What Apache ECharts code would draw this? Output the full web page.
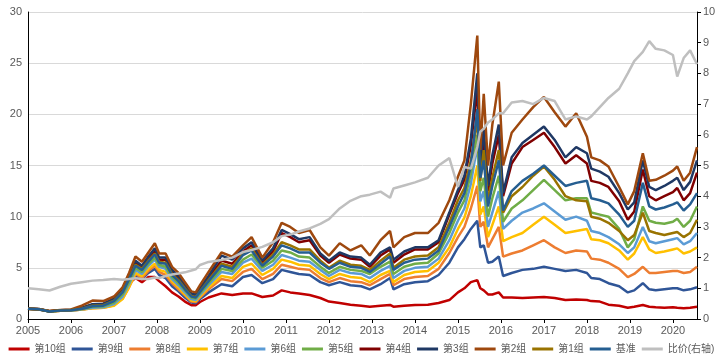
<!DOCTYPE html>
<html>
<head>
<meta charset="utf-8">
<script src="https://cdn.jsdelivr.net/npm/echarts@6/dist/echarts.min.js"></script>
<style>
  html, body { margin: 0; padding: 0; background: #fff; }
  #main { width: 723px; height: 354px; }
</style>
</head>
<body>
<div id="main"></div>
<script>
// 日期(小数年)
var dates = [2005.0, 2005.25, 2005.5, 2005.75, 2006.0, 2006.25, 2006.5, 2006.75, 2007.0, 2007.2,
    2007.35, 2007.5, 2007.65, 2007.8, 2007.95, 2008.05, 2008.2, 2008.35, 2008.5, 2008.65,
    2008.8, 2008.9, 2009.0, 2009.2, 2009.5, 2009.75, 2010.0, 2010.2, 2010.45, 2010.7,
    2010.9, 2011.1, 2011.3, 2011.55, 2011.8, 2012.0, 2012.25, 2012.5, 2012.75, 2012.95,
    2013.2, 2013.42, 2013.5, 2013.75, 2014.0, 2014.3, 2014.55, 2014.8, 2015.0, 2015.15,
    2015.3, 2015.45, 2015.52, 2015.6, 2015.7, 2015.8, 2015.95, 2016.05, 2016.25, 2016.5,
    2016.75, 2017.0, 2017.25, 2017.5, 2017.75, 2018.0, 2018.1, 2018.3, 2018.5, 2018.75,
    2018.95, 2019.1, 2019.3, 2019.45, 2019.6, 2019.8, 2020.0, 2020.1, 2020.25, 2020.4,
    2020.56];

var g10 = [1.0, 0.95, 0.75, 0.85, 0.88, 1.0, 1.2, 1.25, 1.6, 2.4, 3.5, 4.0, 3.6, 4.1, 4.1, 3.7, 3.2, 2.6, 2.2, 1.7,
    1.35, 1.35, 1.66, 2.1, 2.5, 2.35, 2.5, 2.5, 2.15, 2.3, 2.8, 2.6, 2.5, 2.35, 2.05, 1.7, 1.56, 1.4, 1.3, 1.2,
    1.3, 1.37, 1.2, 1.3, 1.37, 1.4, 1.56, 1.85, 2.6, 3.0, 3.6, 3.8, 3.0, 2.8, 2.4, 2.4, 2.6, 2.1, 2.1, 2.05,
    2.1, 2.15, 2.05, 1.85, 1.9, 1.85, 1.75, 1.7, 1.4, 1.3, 1.1, 1.2, 1.37, 1.2, 1.15, 1.1, 1.15, 1.1, 1.05, 1.1,
    1.2];
var g9 = [1.0, 0.93, 0.72, 0.8, 0.82, 0.92, 1.1, 1.15, 1.5, 2.2, 3.4, 4.3, 3.9, 4.5, 4.9, 4.3, 4.0, 3.2, 2.7, 2.1,
    1.6, 1.55, 1.95, 2.6, 3.4, 3.2, 4.1, 4.3, 3.5, 3.9, 4.8, 4.6, 4.4, 4.3, 3.6, 3.3, 3.6, 3.3, 3.2, 2.9,
    3.4, 4.0, 2.9, 3.4, 3.6, 3.7, 4.3, 5.5, 7.0, 7.8, 8.8, 9.6, 7.0, 7.2, 5.5, 5.6, 6.1, 4.2, 4.5, 4.8,
    4.9, 5.1, 4.9, 4.7, 4.8, 4.5, 4.0, 3.9, 3.5, 3.2, 2.6, 2.8, 3.5, 2.9, 2.8, 2.9, 3.0, 3.0, 2.8, 2.9,
    3.1];
var g8 = [1.0, 0.94, 0.72, 0.8, 0.82, 0.92, 1.05, 1.1, 1.35, 2.0, 3.1, 4.4, 4.0, 4.7, 5.2, 4.6, 4.3, 3.5, 2.9, 2.3,
    1.7, 1.65, 2.1, 2.9, 3.9, 3.7, 4.6, 4.9, 3.9, 4.4, 5.3, 5.1, 4.9, 4.8, 4.0, 3.6, 4.0, 3.7, 3.6, 3.3,
    3.9, 4.4, 3.3, 3.9, 4.1, 4.2, 4.9, 6.45, 8.0, 9.0, 10.8, 13.0, 9.0, 9.5, 7.0, 7.8, 9.0, 6.1, 6.4, 6.7,
    7.2, 7.7, 7.0, 6.45, 6.7, 6.6, 5.9, 5.8, 5.5, 4.9, 4.1, 4.4, 5.1, 4.5, 4.5, 4.6, 4.7, 4.7, 4.5, 4.6,
    5.1];
var g7 = [1.0, 0.94, 0.72, 0.8, 0.82, 0.93, 1.05, 1.1, 1.3, 1.95, 3.1, 4.5, 4.2, 4.9, 5.4, 4.8, 4.6, 3.7, 3.1, 2.4,
    1.8, 1.75, 2.2, 3.1, 4.2, 4.0, 5.1, 5.4, 4.3, 4.9, 5.8, 5.6, 5.3, 5.2, 4.4, 3.9, 4.4, 4.1, 4.0, 3.6,
    4.3, 4.7, 3.6, 4.3, 4.6, 4.7, 5.5, 7.0, 8.8, 9.9, 12.0, 15.0, 10.2, 11.0, 8.0, 9.2, 11.0, 7.6, 8.0, 8.4,
    9.2, 10.0, 9.2, 8.4, 8.6, 8.8, 7.8, 7.7, 7.4, 6.7, 5.8, 6.4, 8.0, 6.8, 6.45, 6.6, 6.8, 6.9, 6.4, 6.6,
    7.0];
var g6 = [1.0, 0.95, 0.73, 0.82, 0.84, 0.95, 1.1, 1.15, 1.45, 2.2, 3.4, 4.8, 4.4, 5.2, 5.8, 5.1, 4.9, 3.9, 3.3, 2.6,
    1.95, 1.85, 2.35, 3.3, 4.6, 4.4, 5.5, 5.9, 4.7, 5.3, 6.25, 6.0, 5.7, 5.6, 4.8, 4.2, 4.8, 4.5, 4.4, 4.0,
    4.7, 5.2, 4.0, 4.7, 5.0, 5.1, 5.9, 7.7, 9.6, 10.8, 13.2, 17.0, 11.5, 12.5, 9.0, 10.4, 12.5, 8.8, 9.6, 10.4,
    10.8, 11.3, 10.5, 9.7, 10.0, 9.6, 8.6, 8.4, 8.0, 7.3, 6.45, 7.0, 9.0, 7.6, 7.4, 7.6, 7.8, 7.9, 7.3, 7.6,
    8.4];
var g5 = [1.0, 0.95, 0.74, 0.83, 0.86, 0.98, 1.2, 1.25, 1.6, 2.4, 3.6, 5.0, 4.6, 5.4, 6.0, 5.3, 5.1, 4.1, 3.5, 2.8,
    2.1, 2.0, 2.5, 3.5, 4.9, 4.7, 5.8, 6.3, 5.0, 5.7, 6.7, 6.5, 6.1, 6.0, 5.1, 4.5, 5.1, 4.8, 4.7, 4.4,
    5.1, 5.6, 4.4, 5.1, 5.4, 5.5, 6.4, 8.4, 10.4, 11.6, 14.2, 18.0, 12.5, 13.8, 10.0, 11.8, 14.0, 9.5, 10.8, 11.6,
    12.6, 13.6, 12.6, 11.6, 11.8, 11.8, 10.4, 10.2, 10.0, 8.8, 7.0, 7.8, 11.0, 9.6, 9.4, 9.3, 9.5, 9.8, 9.0, 9.6,
    11.0];
var g4 = [1.0, 0.96, 0.75, 0.85, 0.88, 1.05, 1.4, 1.45, 1.95, 2.8, 4.1, 5.5, 5.0, 5.9, 6.6, 5.8, 5.8, 4.6, 4.0, 3.2,
    2.4, 2.3, 2.9, 4.0, 5.7, 5.4, 6.6, 7.2, 5.5, 6.6, 8.4, 8.0, 7.5, 7.7, 6.2, 5.5, 6.3, 5.9, 5.8, 5.1,
    6.2, 6.8, 5.5, 6.3, 6.8, 6.8, 7.5, 10.2, 12.3, 13.6, 17.0, 22.5, 14.5, 17.5, 12.5, 15.2, 18.0, 12.0, 15.2, 16.8,
    17.5, 18.2, 16.8, 15.2, 16.0, 15.2, 13.5, 13.3, 12.9, 11.5, 9.7, 10.5, 14.6, 12.0, 11.6, 12.0, 12.4, 12.8, 11.6, 12.3,
    14.3];
var g3 = [1.0, 0.97, 0.76, 0.86, 0.9, 1.1, 1.45, 1.5, 2.0, 2.85, 4.2, 5.7, 5.2, 6.1, 6.9, 6.0, 6.0, 4.8, 4.2, 3.3,
    2.5, 2.4, 3.0, 4.2, 6.2, 5.8, 6.9, 7.5, 5.7, 6.9, 8.7, 8.3, 7.8, 8.0, 6.4, 5.7, 6.5, 6.1, 6.0, 5.3,
    6.5, 7.0, 5.8, 6.6, 7.0, 7.0, 7.7, 10.4, 12.6, 14.0, 17.6, 24.0, 15.0, 18.5, 13.0, 16.0, 19.0, 12.3, 15.8, 17.2,
    18.0, 18.8, 17.5, 15.8, 16.8, 16.2, 14.7, 14.4, 13.9, 12.3, 10.7, 11.4, 15.5, 12.9, 12.6, 13.0, 13.5, 13.8, 12.6, 13.4,
    15.5];
var g2 = [1.0, 0.98, 0.78, 0.88, 0.93, 1.3, 1.8, 1.75, 2.2, 3.1, 4.5, 6.1, 5.6, 6.5, 7.4, 6.4, 6.4, 5.1, 4.5, 3.6,
    2.7, 2.6, 3.3, 4.6, 6.5, 6.1, 7.2, 8.0, 6.0, 7.5, 9.4, 9.0, 8.4, 8.7, 7.0, 6.2, 7.4, 6.7, 7.2, 6.2,
    7.7, 8.6, 7.0, 8.0, 8.4, 8.4, 9.4, 11.6, 13.9, 15.5, 21.0, 27.7, 16.5, 22.0, 15.0, 19.0, 23.2, 15.0, 18.2, 19.5,
    20.7, 21.7, 20.2, 18.8, 20.1, 17.8, 15.8, 15.5, 14.9, 12.9, 11.2, 12.5, 16.2, 13.5, 13.6, 14.0, 14.5, 14.9, 13.5, 14.3,
    16.8];
var g1 = [1.0, 0.96, 0.75, 0.84, 0.87, 1.0, 1.3, 1.35, 1.8, 2.65, 3.9, 5.3, 4.9, 5.7, 6.4, 5.6, 5.5, 4.4, 3.8, 3.0,
    2.25, 2.15, 2.7, 3.8, 5.4, 5.1, 6.4, 6.9, 5.3, 6.3, 7.5, 7.2, 6.8, 6.8, 5.7, 5.0, 5.7, 5.3, 5.2, 4.8,
    5.7, 6.4, 5.0, 5.8, 6.1, 6.2, 7.0, 9.4, 11.6, 12.8, 15.5, 19.5, 13.5, 16.5, 11.5, 13.8, 16.5, 10.4, 12.0, 12.9,
    14.0, 14.9, 13.6, 12.0, 11.6, 11.5, 10.0, 9.8, 9.4, 8.6, 7.7, 8.2, 10.4, 8.6, 8.4, 8.2, 8.4, 8.5, 8.0, 8.4,
    9.7];
var base = [1.0, 0.95, 0.74, 0.83, 0.86, 1.0, 1.25, 1.3, 1.75, 2.6, 3.9, 5.2, 4.8, 5.6, 6.3, 5.5, 5.4, 4.3, 3.7, 2.9,
    2.2, 2.1, 2.65, 3.7, 5.2, 4.9, 6.25, 6.7, 5.2, 6.1, 7.2, 6.9, 6.5, 6.5, 5.5, 4.9, 5.5, 5.1, 5.0, 4.6,
    5.4, 6.1, 4.8, 5.5, 5.8, 5.9, 6.7, 9.0, 11.0, 12.3, 15.0, 20.5, 13.8, 15.5, 11.0, 13.0, 15.5, 10.6, 12.5, 13.5,
    14.2, 15.0, 14.0, 13.0, 13.3, 13.5, 11.8, 11.6, 11.3, 10.2, 9.0, 9.6, 13.3, 11.0, 10.7, 10.9, 11.2, 11.4, 10.6, 11.2,
    12.3];
// 比价(右轴)
var ratio = [1.0, 0.97, 0.93, 1.05, 1.15, 1.2, 1.25, 1.27, 1.3, 1.28, 1.3, 1.33, 1.3, 1.3, 1.35, 1.33, 1.4, 1.45, 1.48, 1.52,
    1.58, 1.62, 1.76, 1.86, 1.92, 2.0, 2.18, 2.25, 2.35, 2.5, 2.7, 2.75, 2.85, 2.95, 3.1, 3.25, 3.6, 3.85, 4.0, 4.05,
    4.15, 3.95, 4.25, 4.35, 4.45, 4.6, 5.0, 5.24, 4.3, 4.95, 4.9, 5.6, 6.1, 6.2, 6.4, 6.5, 6.7, 6.7, 7.05, 7.1,
    7.0, 7.2, 7.1, 6.5, 6.6, 6.5, 6.6, 6.9, 7.2, 7.5, 8.0, 8.4, 8.7, 9.05, 8.8, 8.75, 8.6, 7.9, 8.5, 8.75,
    8.3];

var names = ['第10组', '第9组', '第8组', '第7组', '第6组', '第5组', '第4组', '第3组', '第2组', '第1组', '基准', '比价(右轴)'];
var colors = ['#c00000', '#2f5597', '#ed7d31', '#ffc000', '#5b9bd5', '#70ad47', '#800000', '#1f3864', '#9e480e', '#997300', '#255e91', '#bfbfbf'];
var values = [g10, g9, g8, g7, g6, g5, g4, g3, g2, g1, base, ratio];

var font = "'Liberation Sans', 'Noto Sans CJK SC', sans-serif";

function pairs(arr) {
    return dates.map(function (d, i) { return [d, arr[i]]; });
}

var series = names.map(function (n, k) {
    return {
        name: n,
        type: 'line',
        yAxisIndex: k === 11 ? 1 : 0,
        data: pairs(values[k]),
        showSymbol: false,
        symbol: 'none',
        lineStyle: { width: 2.5, color: colors[k] },
        itemStyle: { color: colors[k] }
    };
});

var chart = echarts.init(document.getElementById('main'));
chart.setOption({
    animation: false,
    color: colors,
    textStyle: { fontFamily: font },
    grid: { left: 28, right: 26, top: 12, bottom: 35, containLabel: false },
    legend: {
        data: names,
        top: 339,
        left: 'center',
        icon: 'rect',
        itemWidth: 21,
        itemHeight: 3,
        itemGap: 6,
        textStyle: { fontSize: 10, color: '#595959', fontFamily: font }
    },
    xAxis: {
        type: 'value',
        min: 2005,
        max: 2020.56,
        interval: 1,
        axisLine: { lineStyle: { color: '#000', width: 1 } },
        axisTick: { show: true, length: 4, lineStyle: { color: '#000' } },
        axisLabel: {
            color: '#595959', fontSize: 11, margin: 6, showMaxLabel: false,
            formatter: function (v) { return Math.abs(v - Math.round(v)) < 1e-6 ? String(Math.round(v)) : ''; }
        },
        splitLine: { show: false }
    },
    yAxis: [{
        type: 'value',
        min: 0,
        max: 30,
        interval: 5,
        axisLine: { show: true, lineStyle: { color: '#000', width: 1 } },
        axisTick: { show: false },
        axisLabel: { color: '#595959', fontSize: 11, margin: 6 },
        splitLine: { show: true, lineStyle: { color: '#d9d9d9', width: 1 } }
    }, {
        type: 'value',
        min: 0,
        max: 10,
        interval: 1,
        position: 'right',
        axisLine: { show: true, lineStyle: { color: '#000', width: 1 } },
        axisTick: { show: true, length: 4, lineStyle: { color: '#000' } },
        axisLabel: { color: '#595959', fontSize: 11, margin: 6 },
        splitLine: { show: false }
    }],
    series: series
});
</script>
</body>
</html>
